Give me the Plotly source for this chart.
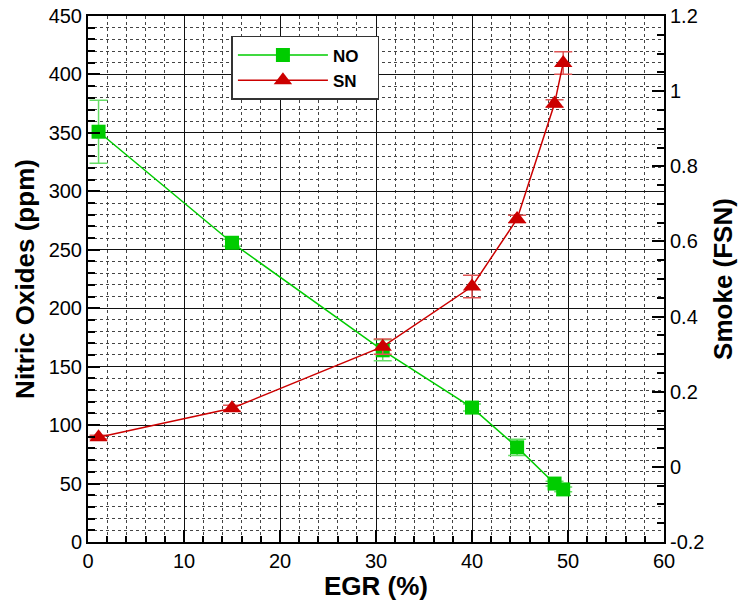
import plotly.graph_objects as go

egr = [1.1, 15.0, 30.7, 40.0, 44.7, 48.6, 49.5]
no_ppm = [351, 256, 164, 115, 81, 50, 45]
no_err = [27, 3, 9, 3, 7, 2, 2]
sn_fsn = [0.079, 0.156, 0.32, 0.48, 0.66, 0.967, 1.075]
sn_err = [0.005, 0.008, 0.02, 0.03, 0.01, 0.01, 0.03]

right_ticks = [-0.2, 0, 0.2, 0.4, 0.6, 0.8, 1.0, 1.2]
right_text = ["-0.2", "0", "0.2", "0.4", "0.6", "0.8", "1", "1.2"]

GREEN = "#00CC00"
RED = "#CC0000"
FONT = "Liberation Sans, Arial, sans-serif"
NB = "\u00a0"

fig = go.Figure()
fig.add_trace(go.Scatter(
    x=egr, y=no_ppm, name="NO" + NB * 3, mode="lines+markers",
    line=dict(color=GREEN, width=1.5),
    marker=dict(symbol="square", size=14, color=GREEN),
    error_y=dict(type="data", array=no_err, color="#66DD66", thickness=1.5, width=9),
))
fig.add_trace(go.Scatter(
    x=egr, y=sn_fsn, name="SN" + NB * 3, mode="lines+markers", yaxis="y2",
    line=dict(color=RED, width=1.5),
    marker=dict(symbol="triangle-up", size=16, color=RED),
    error_y=dict(type="data", array=sn_err, color="#E05555", thickness=1.5, width=9),
))

fig.update_layout(
    width=742, height=603,
    margin=dict(l=88, r=78, t=16, b=61, autoexpand=False),
    plot_bgcolor="white", paper_bgcolor="white",
    font=dict(family=FONT, size=20, color="black"),
    showlegend=True,
    legend=dict(
        x=0.249, y=0.962, xanchor="left", yanchor="top",
        bgcolor="white", bordercolor="#333333", borderwidth=1.5,
        font=dict(family=FONT, size=17, color="black", weight="bold"),
        itemwidth=90, tracegroupgap=0,
    ),
    xaxis=dict(
        range=[0, 60], tick0=0, dtick=10, automargin=False,
        showgrid=True, gridcolor="#111111", gridwidth=1,
        ticks="inside", ticklen=12, tickcolor="black", tickwidth=1.5,
        minor=dict(dtick=2, showgrid=True, gridcolor="#444444", griddash="dot", gridwidth=1,
                   ticks="inside", ticklen=6, tickcolor="black"),
        showline=True, linecolor="black", linewidth=2, mirror=True, zeroline=False,
        tickfont=dict(size=20),
    ),
    yaxis=dict(
        range=[0, 450], tick0=0, dtick=50, automargin=False,
        showgrid=True, gridcolor="#111111", gridwidth=1,
        ticks="inside", ticklen=12, tickcolor="black", tickwidth=1.5,
        minor=dict(dtick=10, showgrid=True, gridcolor="#444444", griddash="dot", gridwidth=1,
                   ticks="inside", ticklen=7, tickcolor="black"),
        showline=True, linecolor="black", linewidth=2, zeroline=False,
        tickfont=dict(size=20),
        title=dict(text="<b>Nitric Oxides (ppm)</b>", font=dict(size=26), standoff=7),
    ),
    yaxis2=dict(
        overlaying="y", side="right", range=[-0.2, 1.2], automargin=False,
        tickvals=right_ticks, ticktext=right_text,
        showgrid=False, zeroline=False,
        ticks="inside", ticklen=12, tickcolor="black", tickwidth=1.5,
        minor=dict(dtick=0.05, tick0=0, ticks="inside", ticklen=7, tickcolor="black", showgrid=False),
        showline=True, linecolor="black", linewidth=2,
        tickfont=dict(size=20),
        title=dict(text="<b>Smoke (FSN)</b>", font=dict(size=26), standoff=10),
    ),
    annotations=[dict(
        text="<b>EGR (%)</b>", xref="paper", yref="paper", x=0.5, y=-0.084,
        xanchor="center", yanchor="middle", showarrow=False,
        font=dict(family=FONT, size=26, color="black"),
    )],
)

fig.write_html("out.html")
